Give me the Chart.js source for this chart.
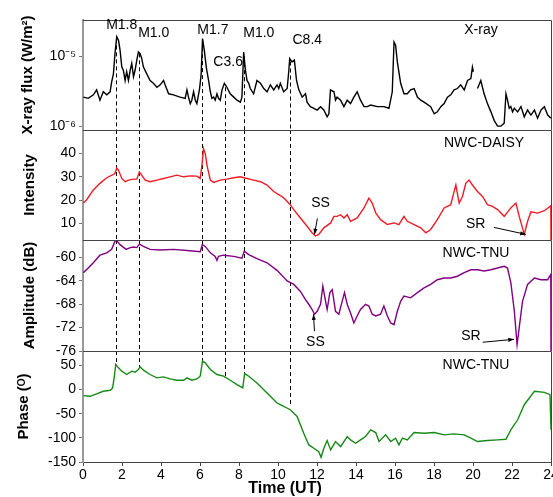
<!DOCTYPE html>
<html>
<head>
<meta charset="utf-8">
<script src="https://cdn.jsdelivr.net/npm/chart.js@4"></script>
<style>
  body { margin: 0; background: #fff; }
  #wrap { position: relative; width: 553px; height: 497px; overflow: hidden; background: #fff; }
  canvas { position: absolute; left: 0; }
</style>
</head>
<body>
<div id="wrap">
  <canvas id="c1" width="553" height="145" style="top:0px"></canvas>
  <canvas id="c2" width="553" height="140" style="top:115px"></canvas>
  <canvas id="c3" width="553" height="141" style="top:225px"></canvas>
  <canvas id="c4" width="553" height="161" style="top:336px"></canvas>
</div>
<script>
// time axis (UT hours)
const xTicks = [0, 2, 4, 6, 8, 10, 12, 14, 16, 18, 20, 22, 24];

// X-ray flux (W/m2)
const xrayTime = [
  0.02, 0.27, 0.53, 0.70, 0.87, 1.04, 1.22, 1.39, 1.47, 1.56,
  1.64, 1.73, 1.82, 1.90, 1.99, 2.07, 2.16, 2.24, 2.33, 2.42,
  2.50, 2.59, 2.67, 2.76, 2.84, 2.93, 3.01, 3.10, 3.27, 3.44,
  3.61, 3.79, 3.96, 4.13, 4.21, 4.39, 4.64, 4.98, 5.24, 5.33,
  5.41, 5.50, 5.58, 5.67, 5.76, 5.84, 5.98, 6.06, 6.13, 6.22,
  6.32, 6.44, 6.53, 6.61, 6.70, 6.78, 6.87, 6.95, 7.04, 7.13,
  7.25, 7.38, 7.55, 7.73, 7.90, 8.07, 8.15, 8.24, 8.33, 8.41,
  8.50, 8.58, 8.75, 8.92, 9.10, 9.27, 9.44, 9.61, 9.78, 9.95,
  10.04, 10.12, 10.29, 10.47, 10.55, 10.60, 10.72, 10.84, 10.95, 11.07,
  11.24, 11.41, 11.49, 11.66, 11.84, 12.01, 12.18, 12.35, 12.52, 12.61,
  12.69, 12.87, 12.95, 13.03, 13.21, 13.38, 13.55, 13.72, 13.89, 14.06,
  14.23, 14.41, 14.58, 14.75, 15.09, 15.43, 15.69, 15.86, 15.95, 16.03,
  16.12, 16.29, 16.46, 16.63, 16.80, 16.98, 17.15, 17.32, 17.49, 17.83,
  18.01, 18.17, 18.35, 18.52, 18.69, 18.86, 19.03, 19.20, 19.37, 19.55,
  19.72, 19.89, 19.97, 20.02, 20.12, 20.23, 20.40, 20.57, 20.74, 20.92,
  21.09, 21.26, 21.43, 21.60, 21.69, 21.77, 21.86, 21.94, 22.03, 22.12,
  22.29, 22.46, 22.63, 22.80, 22.97, 23.15, 23.31, 23.49, 23.66, 23.83, 23.99
];
const xrayFlux = [
  2.6e-6, 2.5e-6, 2.8e-6, 3.3e-6, 2.35e-6, 3.1e-6, 2.8e-6, 3.1e-6, 4.3e-6, 5.6e-6,
  1.09e-5, 1.9e-5, 1.69e-5, 1.22e-5, 7.0e-6, 6.3e-6, 4.5e-6, 6.0e-6, 4.5e-6, 6.3e-6,
  7.9e-6, 5.1e-6, 6.3e-6, 8.8e-6, 1.15e-5, 1.09e-5, 9.3e-6, 7.0e-6, 5.6e-6, 4.5e-6,
  4.1e-6, 3.6e-6, 3.9e-6, 4.5e-6, 3.9e-6, 2.9e-6, 2.8e-6, 2.6e-6, 2.5e-6, 3.3e-6,
  2.6e-6, 2.1e-6, 2.35e-6, 3.1e-6, 2.35e-6, 2.1e-6, 3.45e-6, 5.6e-6, 1.79e-5, 1.22e-5,
  7.0e-6, 4.5e-6, 3.1e-6, 2.5e-6, 2.6e-6, 2.35e-6, 2.9e-6, 2.5e-6, 2.35e-6, 3.3e-6,
  4.1e-6, 3.6e-6, 2.9e-6, 2.6e-6, 2.35e-6, 2.2e-6, 2.6e-6, 1.15e-5, 6.3e-6, 4.5e-6,
  4.1e-6, 3.45e-6, 2.9e-6, 4.5e-6, 4.1e-6, 3.45e-6, 3.1e-6, 3.9e-6, 3.3e-6, 3.9e-6,
  3.45e-6, 4.1e-6, 3.1e-6, 3.45e-6, 6.0e-6, 9.3e-6, 8.3e-6, 8.8e-6, 4.5e-6, 3.3e-6,
  2.6e-6, 2.9e-6, 2.2e-6, 1.9e-6, 1.8e-6, 1.7e-6, 1.9e-6, 1.7e-6, 1.36e-6, 1.5e-6,
  3.3e-6, 3.1e-6, 2.35e-6, 2.6e-6, 2.35e-6, 1.9e-6, 2.35e-6, 2.1e-6, 2.6e-6, 3.1e-6,
  2.35e-6, 1.9e-6, 1.9e-6, 2.0e-6, 1.9e-6, 1.9e-6, 1.8e-6, 3.1e-6, 1.6e-5, 1.44e-5,
  8.3e-6, 4.1e-6, 2.9e-6, 2.9e-6, 3.3e-6, 3.45e-6, 2.6e-6, 2.35e-6, 2.2e-6, 1.9e-6,
  1.5e-6, 1.6e-6, 1.9e-6, 2.1e-6, 2.6e-6, 2.8e-6, 3.3e-6, 3.45e-6, 3.9e-6, 3.3e-6,
  4.5e-6, 4.8e-6, 7.0e-6, 6.0e-6, null, 3.45e-6, 4.5e-6, 2.9e-6, 2.1e-6, 1.6e-6,
  1.2e-6, 1.0e-6, 1.0e-6, 1.1e-6, 2.9e-6, 2.35e-6, 1.8e-6, 1.9e-6, 1.6e-6, 1.8e-6,
  1.6e-6, 1.9e-6, 1.36e-6, 1.7e-6, 1.44e-6, 1.7e-6, 1.3e-6, 1.7e-6, 1.9e-6, 1.44e-6, 1.3e-6
];

// NWC-DAISY intensity
const daisyTime = [
  0.02, 0.19, 0.53, 0.87, 1.22, 1.56, 1.64, 1.73, 1.82, 1.99,
  2.16, 2.33, 2.59, 2.76, 2.89, 3.01, 3.19, 3.44, 3.79, 4.13,
  4.47, 4.81, 5.16, 5.50, 5.84, 6.01, 6.10, 6.18, 6.27, 6.36,
  6.53, 6.70, 7.04, 7.38, 7.73, 8.07, 8.41, 8.75, 9.10, 9.44,
  9.78, 10.12, 10.29, 10.63, 10.81, 11.15, 11.49, 11.75, 11.92, 12.09,
  12.35, 12.70, 12.87, 13.03, 13.21, 13.38, 13.55, 13.72, 14.06, 14.41,
  14.66, 14.83, 15.01, 15.26, 15.61, 15.95, 16.20, 16.46, 16.63, 16.98,
  17.32, 17.58, 17.83, 18.17, 18.52, 18.86, 19.03, 19.12, 19.29, 19.46,
  19.63, 19.80, 19.97, 20.23, 20.49, 20.74, 21.00, 21.26, 21.60, 21.94,
  22.20, 22.37, 22.63, 22.80, 22.97, 23.31, 23.66, 23.99, 24.0
];
const daisyIntensity = [
  18.8, 20.2, 24.4, 27.2, 29.6, 31.0, 31.4, 33.8, 32.8, 29.3,
  27.9, 28.6, 29.0, 29.0, 32.1, 30.7, 28.6, 27.9, 28.6, 29.3,
  30.0, 30.7, 30.0, 30.4, 30.3, 29.3, 34.9, 42.0, 39.9, 34.9,
  28.6, 27.6, 28.6, 29.0, 29.6, 30.0, 29.3, 28.6, 27.9, 26.5,
  23.7, 22.0, 21.0, 18.1, 16.0, 12.4, 8.9, 6.1, 4.7, 5.4,
  8.2, 10.3, 13.1, 13.1, 13.8, 12.4, 13.8, 11.0, 12.4, 16.7,
  20.9, 18.8, 14.6, 11.7, 9.6, 10.3, 9.6, 13.1, 11.0, 9.6,
  8.2, 6.1, 7.5, 11.7, 16.7, 18.1, 23.7, 26.5, 18.8, 21.6,
  27.2, 28.6, 26.5, 23.7, 21.6, 18.1, 17.4, 16.0, 13.1, 16.7,
  18.8, 13.1, 5.4, 11.0, 15.0, 14.5, 15.5, 17.6, 3
];

// NWC-TNU amplitude (dB)
const ampTime = [
  0.02, 0.27, 0.53, 0.87, 1.22, 1.47, 1.64, 1.73, 1.90, 2.21,
  2.42, 2.59, 2.76, 2.89, 3.10, 3.44, 3.96, 4.64, 5.33, 6.01,
  6.12, 6.27, 6.53, 6.78, 6.87, 6.95, 7.21, 7.73, 8.15, 8.27,
  8.50, 8.92, 9.44, 9.95, 10.47, 10.81, 11.15, 11.41, 11.58, 11.75,
  11.87, 12.01, 12.18, 12.30, 12.44, 12.52, 12.66, 12.78, 12.95, 13.12,
  13.29, 13.41, 13.55, 13.72, 13.89, 14.06, 14.23, 14.49, 14.66, 14.83,
  15.01, 15.26, 15.43, 15.61, 15.78, 15.95, 16.12, 16.29, 16.46, 16.80,
  17.15, 17.49, 17.83, 18.17, 18.52, 18.86, 19.20, 19.55, 19.89, 20.23,
  20.57, 20.92, 21.26, 21.60, 21.77, 21.94, 22.12, 22.26, 22.37, 22.54,
  22.80, 23.15, 23.49, 23.83, 23.99, 24.0
];
const ampValue = [
  -62.6, -61.8, -60.9, -59.6, -59.2, -58.6, -57.2, -57.1, -57.8, -58.6,
  -58.3, -58.2, -58.3, -57.7, -58.1, -58.6, -58.7, -58.6, -58.8, -59.0,
  -57.8, -58.1, -59.2, -59.8, -60.5, -59.8, -59.6, -59.8, -60.1, -58.9,
  -59.5, -60.2, -60.9, -62.2, -64.0, -64.6, -65.8, -67.2, -68.0, -68.9,
  -69.7, -69.2, -68.0, -64.9, -67.5, -68.9, -66.0, -65.5, -69.2, -69.7,
  -67.5, -66.0, -68.0, -69.5, -71.2, -70.0, -68.9, -68.0, -68.3, -69.7,
  -70.0, -69.7, -68.3, -70.0, -71.2, -71.5, -69.2, -67.5, -66.6, -66.9,
  -66.0, -65.2, -64.6, -63.8, -63.5, -63.5, -63.2, -62.6, -62.1, -62.1,
  -62.3, -62.1, -61.8, -61.5, -61.8, -64.3, -69.2, -74.9, -72.0, -67.5,
  -64.6, -63.5, -63.8, -63.8, -62.9, -76
];

// NWC-TNU phase (deg)
const phaseTime = [
  0.02, 0.36, 0.70, 1.04, 1.39, 1.52, 1.61, 1.68, 1.82, 1.99,
  2.24, 2.50, 2.67, 2.84, 2.93, 3.10, 3.44, 3.79, 4.13, 4.47,
  4.81, 5.16, 5.33, 5.58, 5.84, 6.01, 6.13, 6.27, 6.53, 6.87,
  7.21, 7.55, 7.90, 8.19, 8.29, 8.50, 8.92, 9.44, 9.95, 10.12,
  10.63, 10.98, 11.32, 11.58, 11.84, 12.09, 12.21, 12.35, 12.52, 12.70,
  12.95, 13.21, 13.55, 13.72, 13.98, 14.23, 14.49, 14.75, 15.01, 15.18,
  15.52, 15.78, 16.03, 16.20, 16.38, 16.63, 16.98, 17.49, 18.01, 18.52,
  19.03, 19.55, 19.89, 20.23, 20.74, 21.26, 21.69, 21.94, 22.29, 22.63,
  23.15, 23.66, 23.95, 24.0
];
const phaseValue = [
  -12.5, -13.9, -9.0, -3.5, -1.4, 3.5, 27.8, 52.1, 45.1, 38.2,
  31.3, 38.2, 36.1, 41.7, 47.2, 40.3, 31.3, 24.3, 26.4, 22.2,
  19.4, 19.4, 24.3, 19.4, 22.2, 27.8, 59.0, 55.6, 41.7, 31.3,
  27.8, 19.4, 10.4, 3.5, 33.3, 27.8, 13.9, -6.9, -27.8, -31.3,
  -41.7, -55.6, -90.3, -114.6, -121.5, -128.5, -140.3, -121.5, -105.6, -125,
  -107.6, -118.1, -97.2, -104.2, -111.1, -104.2, -97.2, -83.3, -88.9, -107.6,
  -93.8, -107.6, -100.7, -114.6, -100.7, -104.2, -88.9, -90.3, -88.9, -93.8,
  -91.7, -93.8, -100.7, -107.6, -105.6, -104.2, -102.8, -83.3, -62.5, -31.3,
  -3.5, -5.6, -10.4, -83
];

// flares
const flareTimes = [1.70, 2.88, 6.12, 7.30, 8.27, 10.64];
const flareClasses = ['M1.8', 'M1.0', 'M1.7', 'C3.6', 'M1.0', 'C8.4'];
const flarePeakFlux = [1.8e-5, 1.1e-5, 1.7e-5, 3.6e-6, 1.0e-5, 8.4e-6];
const flarePhaseEnd = [50, 45, 57, 27, 31, -35];
// label placement (px from dashed line / from panel top)
const flareLabelDx = [-10, -1, -5, -12, -1, 2];
const flareLabelDy = [5, 13, 10, 42, 13, 20];

// SS / SR markers
const daisyNotes = [
  {text: 'SS', at: [12.18, 18.9], from: [12.02, 12.2], to: [11.87, 5.4]},
  {text: 'SR', at: [20.14, 9.6], from: [21.07, 8.4], to: [22.71, 5.4]}
];
const ampNotes = [
  {text: 'SS', at: [11.92, -74.5], from: [11.87, -72.6], to: [11.82, -69.7]},
  {text: 'SR', at: [19.89, -73.5], from: [20.5, -74.5], to: [22.1, -74.0]}
];

const FAMILY = '"Liberation Sans", Arial, sans-serif';
const textFont = '14px ' + FAMILY;

function pairs(t, v) {
  return t.map((x, i) => ({x: x, y: v[i]}));
}

function arrow(ctx, x1, y1, x2, y2) {
  ctx.beginPath(); ctx.moveTo(x1, y1); ctx.lineTo(x2, y2); ctx.stroke();
  const ang = Math.atan2(y2 - y1, x2 - x1), L = 6;
  ctx.beginPath();
  ctx.moveTo(x2, y2);
  ctx.lineTo(x2 - L * Math.cos(ang - 0.35), y2 - L * Math.sin(ang - 0.35));
  ctx.lineTo(x2 - L * Math.cos(ang + 0.35), y2 - L * Math.sin(ang + 0.35));
  ctx.closePath(); ctx.fill();
}

function drawNotes(chart, notes) {
  const {ctx, scales: {x, y}} = chart;
  ctx.fillStyle = '#000'; ctx.strokeStyle = '#000'; ctx.lineWidth = 1;
  ctx.font = textFont; ctx.textAlign = 'center'; ctx.textBaseline = 'middle';
  notes.forEach(n => {
    ctx.fillText(n.text, x.getPixelForValue(n.at[0]), y.getPixelForValue(n.at[1]));
    arrow(ctx, x.getPixelForValue(n.from[0]), y.getPixelForValue(n.from[1]),
      x.getPixelForValue(n.to[0]), y.getPixelForValue(n.to[1]));
  });
}

function panelPlugin(cfg) {
  return {
    id: 'panel',
    beforeDatasetsDraw(chart) {
      const {ctx, chartArea: a, scales: {x, y}} = chart;
      ctx.save();
      ctx.strokeStyle = '#000'; ctx.lineWidth = 1; ctx.setLineDash([4, 3]);
      flareTimes.forEach((t, i) => {
        const px = Math.round(x.getPixelForValue(t)) + 0.5;
        const y0 = cfg.dashFrom ? y.getPixelForValue(cfg.dashFrom[i]) : a.top;
        const y1 = cfg.dashTo ? y.getPixelForValue(cfg.dashTo[i]) : a.bottom;
        ctx.beginPath(); ctx.moveTo(px, y0); ctx.lineTo(px, y1); ctx.stroke();
      });
      ctx.restore();
    },
    afterDatasetsDraw(chart) {
      const {ctx, chartArea: a} = chart;
      ctx.save();
      ctx.strokeStyle = '#444'; ctx.lineWidth = 1;
      ctx.beginPath();
      ctx.moveTo(a.left, a.top + 0.5);
      ctx.lineTo(a.right + 0.5, a.top + 0.5);
      ctx.lineTo(a.right + 0.5, a.bottom);
      ctx.stroke();
      ctx.fillStyle = '#000'; ctx.font = textFont;
      ctx.textAlign = 'center'; ctx.textBaseline = 'middle';
      ctx.fillText(cfg.name, a.right - cfg.nameDx, a.top + cfg.nameDy);
      if (cfg.extra) cfg.extra(chart);
      ctx.restore();
    }
  };
}

function xScale(show) {
  const s = {
    type: 'linear', min: 0, max: 24, display: show,
    afterBuildTicks: sc => { sc.ticks = xTicks.map(v => ({value: v})); },
    grid: {drawOnChartArea: false, tickLength: 4, color: '#444'},
    border: {color: '#444', width: 1},
    ticks: {font: {size: 14, family: FAMILY}, color: '#000', padding: 1, maxRotation: 0, autoSkip: false}
  };
  if (show) s.afterFit = sc => { sc.height = 35; sc.paddingLeft = 0; sc.paddingRight = 0; };
  return s;
}

function yScale(type, min, max, ticks, title, titlePad, fmt) {
  return {
    type: type, min: min, max: max, position: 'left',
    afterFit: s => { s.width = 83; s.paddingTop = 0; s.paddingBottom = 0; },
    afterBuildTicks: s => { s.ticks = ticks.map(v => ({value: v})); },
    grid: {drawOnChartArea: false, tickLength: 4, color: '#777'},
    border: {color: '#999', width: 2},
    ticks: {font: {size: 14, family: FAMILY}, color: '#000', padding: 3, autoSkip: false,
      callback: fmt || (v => v)},
    title: {display: true, text: title, color: '#000',
      font: {size: 15, weight: 'bold', family: FAMILY},
      padding: {top: titlePad, bottom: 0}}
  };
}

function makeChart(id, data, color, yOpts, plugin, showX, pad) {
  return new Chart(document.getElementById(id), {
    type: 'line',
    data: {datasets: [{data: data, borderColor: color, borderWidth: 1.4,
      pointRadius: 0, tension: 0, spanGaps: false}]},
    options: {
      responsive: false, animation: false,
      layout: {padding: pad},
      plugins: {legend: {display: false}, tooltip: {enabled: false}},
      scales: {x: xScale(showX), y: yOpts}
    },
    plugins: [plugin]
  });
}

// panel 1: X-ray
makeChart('c1', pairs(xrayTime, xrayFlux), '#000',
  yScale('logarithmic', 8.8e-7, 3.3e-5, [1e-6, 1e-5], 'X-ray flux (W/m²)', 19,
    v => (v === 1e-5 ? '10⁻⁵' : v === 1e-6 ? '10⁻⁶' : '')),
  panelPlugin({name: 'X-ray', nameDx: 70, nameDy: 10, dashFrom: flarePeakFlux,
    extra: chart => {
      const {ctx, chartArea: a, scales: {x}} = chart;
      ctx.textAlign = 'left';
      flareTimes.forEach((t, i) => {
        ctx.fillText(flareClasses[i], x.getPixelForValue(t) + flareLabelDx[i], a.top + flareLabelDy[i]);
      });
    }}),
  false, {top: 20, bottom: 15, left: 0, right: 2});

// panel 2: NWC-DAISY intensity
makeChart('c2', pairs(daisyTime, daisyIntensity), '#ee1c24',
  yScale('linear', 3, 50, [10, 20, 30, 40], 'Intensity', 21),
  panelPlugin({name: 'NWC-DAISY', nameDx: 67, nameDy: 13,
    extra: chart => drawNotes(chart, daisyNotes)}),
  false, {top: 15, bottom: 15, left: 0, right: 2});

// panel 3: NWC-TNU amplitude
makeChart('c3', pairs(ampTime, ampValue), '#800080',
  yScale('linear', -76, -57, [-60, -64, -68, -72, -76], 'Amplitude (dB)', 21),
  panelPlugin({name: 'NWC-TNU', nameDx: 75, nameDy: 13,
    extra: chart => drawNotes(chart, ampNotes)}),
  false, {top: 15, bottom: 15, left: 0, right: 2});

// panel 4: NWC-TNU phase
makeChart('c4', pairs(phaseTime, phaseValue), '#168a16',
  yScale('linear', -150, 80, [50, 0, -50, -100, -150], 'Phase (ᴼ)', 15),
  panelPlugin({name: 'NWC-TNU', nameDx: 75, nameDy: 14, dashTo: flarePhaseEnd,
    extra: chart => {
      const {ctx, chartArea: a} = chart;
      ctx.font = 'bold 16px ' + FAMILY;
      ctx.textAlign = 'center';
      ctx.fillText('Time (UT)', a.left + 202, a.bottom + 27);
    }}),
  true, {top: 15, bottom: 0, left: 0, right: 2});
</script>
</body>
</html>
